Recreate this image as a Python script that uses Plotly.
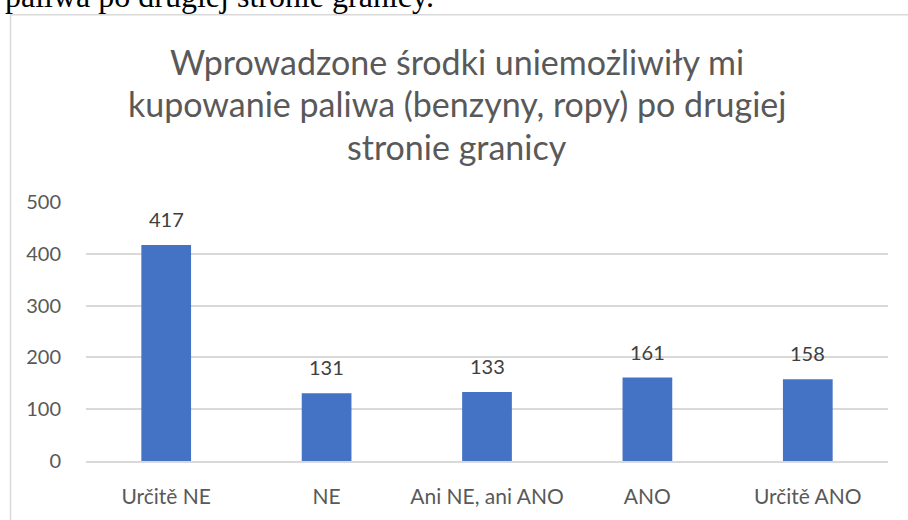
import plotly.graph_objects as go

categories = ["Určitě NE", "NE", "Ani NE, ani ANO", "ANO", "Určitě ANO"]
values = [417, 131, 133, 161, 158]
y_ticks = [0, 100, 200, 300, 400, 500]
title_lines = ["Wprowadzone środki uniemożliwiły mi",
               "kupowanie paliwa (benzyny, ropy) po drugiej",
               "stronie granicy"]
page_text = "paliwa po drugiej stronie granicy."

W, H = 908, 520
L, R, T, B = 86, 20, 202, 56
pw, ph = W - L - R, H - T - B

def px(x):
    return (x - L) / pw

def py(y):
    return (H - B - y) / ph

FONT = "Lato"

fig = go.Figure(go.Bar(
    x=categories, y=values,
    marker=dict(color="#4472C4", line=dict(width=0)),
    width=0.31,
    hoverinfo="x+y",
))

annotations = []
for c, v in zip(categories, values):
    annotations.append(dict(x=c, y=v, xref="x", yref="y", text=str(v),
                            showarrow=False, yanchor="bottom", yshift=12,
                            font=dict(family=FONT, size=20, color="#404040")))

for txt, yc in zip(title_lines, [60, 102, 146]):
    annotations.append(dict(x=px(457), y=py(yc), xref="paper", yref="paper",
                            text=txt, showarrow=False, xanchor="center", yanchor="middle",
                            font=dict(family=FONT, size=34, color="#595959")))

annotations.append(dict(x=px(6), y=py(12), xref="paper", yref="paper",
                        text=page_text, showarrow=False, xanchor="left", yanchor="bottom",
                        yshift=-2, xshift=-3,
                        font=dict(family="Liberation Serif", size=32, color="#000000")))

fig.update_layout(
    width=W, height=H,
    margin=dict(l=L, r=R, t=T, b=B, pad=0),
    paper_bgcolor="white", plot_bgcolor="white",
    showlegend=False,
    annotations=annotations,
    shapes=[
        dict(type="line", xref="paper", yref="paper", x0=px(10), x1=px(W + 10),
             y0=py(12.5), y1=py(12.5), line=dict(color="#d9d9d9", width=1.5)),
        dict(type="line", xref="paper", yref="paper", x0=px(10.5), x1=px(10.5),
             y0=py(12), y1=py(H + 10), line=dict(color="#d9d9d9", width=1.5)),
    ],
    xaxis=dict(showgrid=False, showline=True, linecolor="#d9d9d9", linewidth=1.5,
               ticks="", tickfont=dict(family=FONT, size=21, color="#595959"),
               ticklabelstandoff=16),
    yaxis=dict(range=[0, 500], tickvals=y_ticks, showgrid=True, gridcolor="#d9d9d9",
               gridwidth=1.5, zeroline=False, showline=False, ticks="",
               tickfont=dict(family=FONT, size=20, color="#595959"),
               ticklabelstandoff=24),
)

fig.write_html("out.html", config={"displayModeBar": False},
               post_script="document.body.style.margin='0';")
